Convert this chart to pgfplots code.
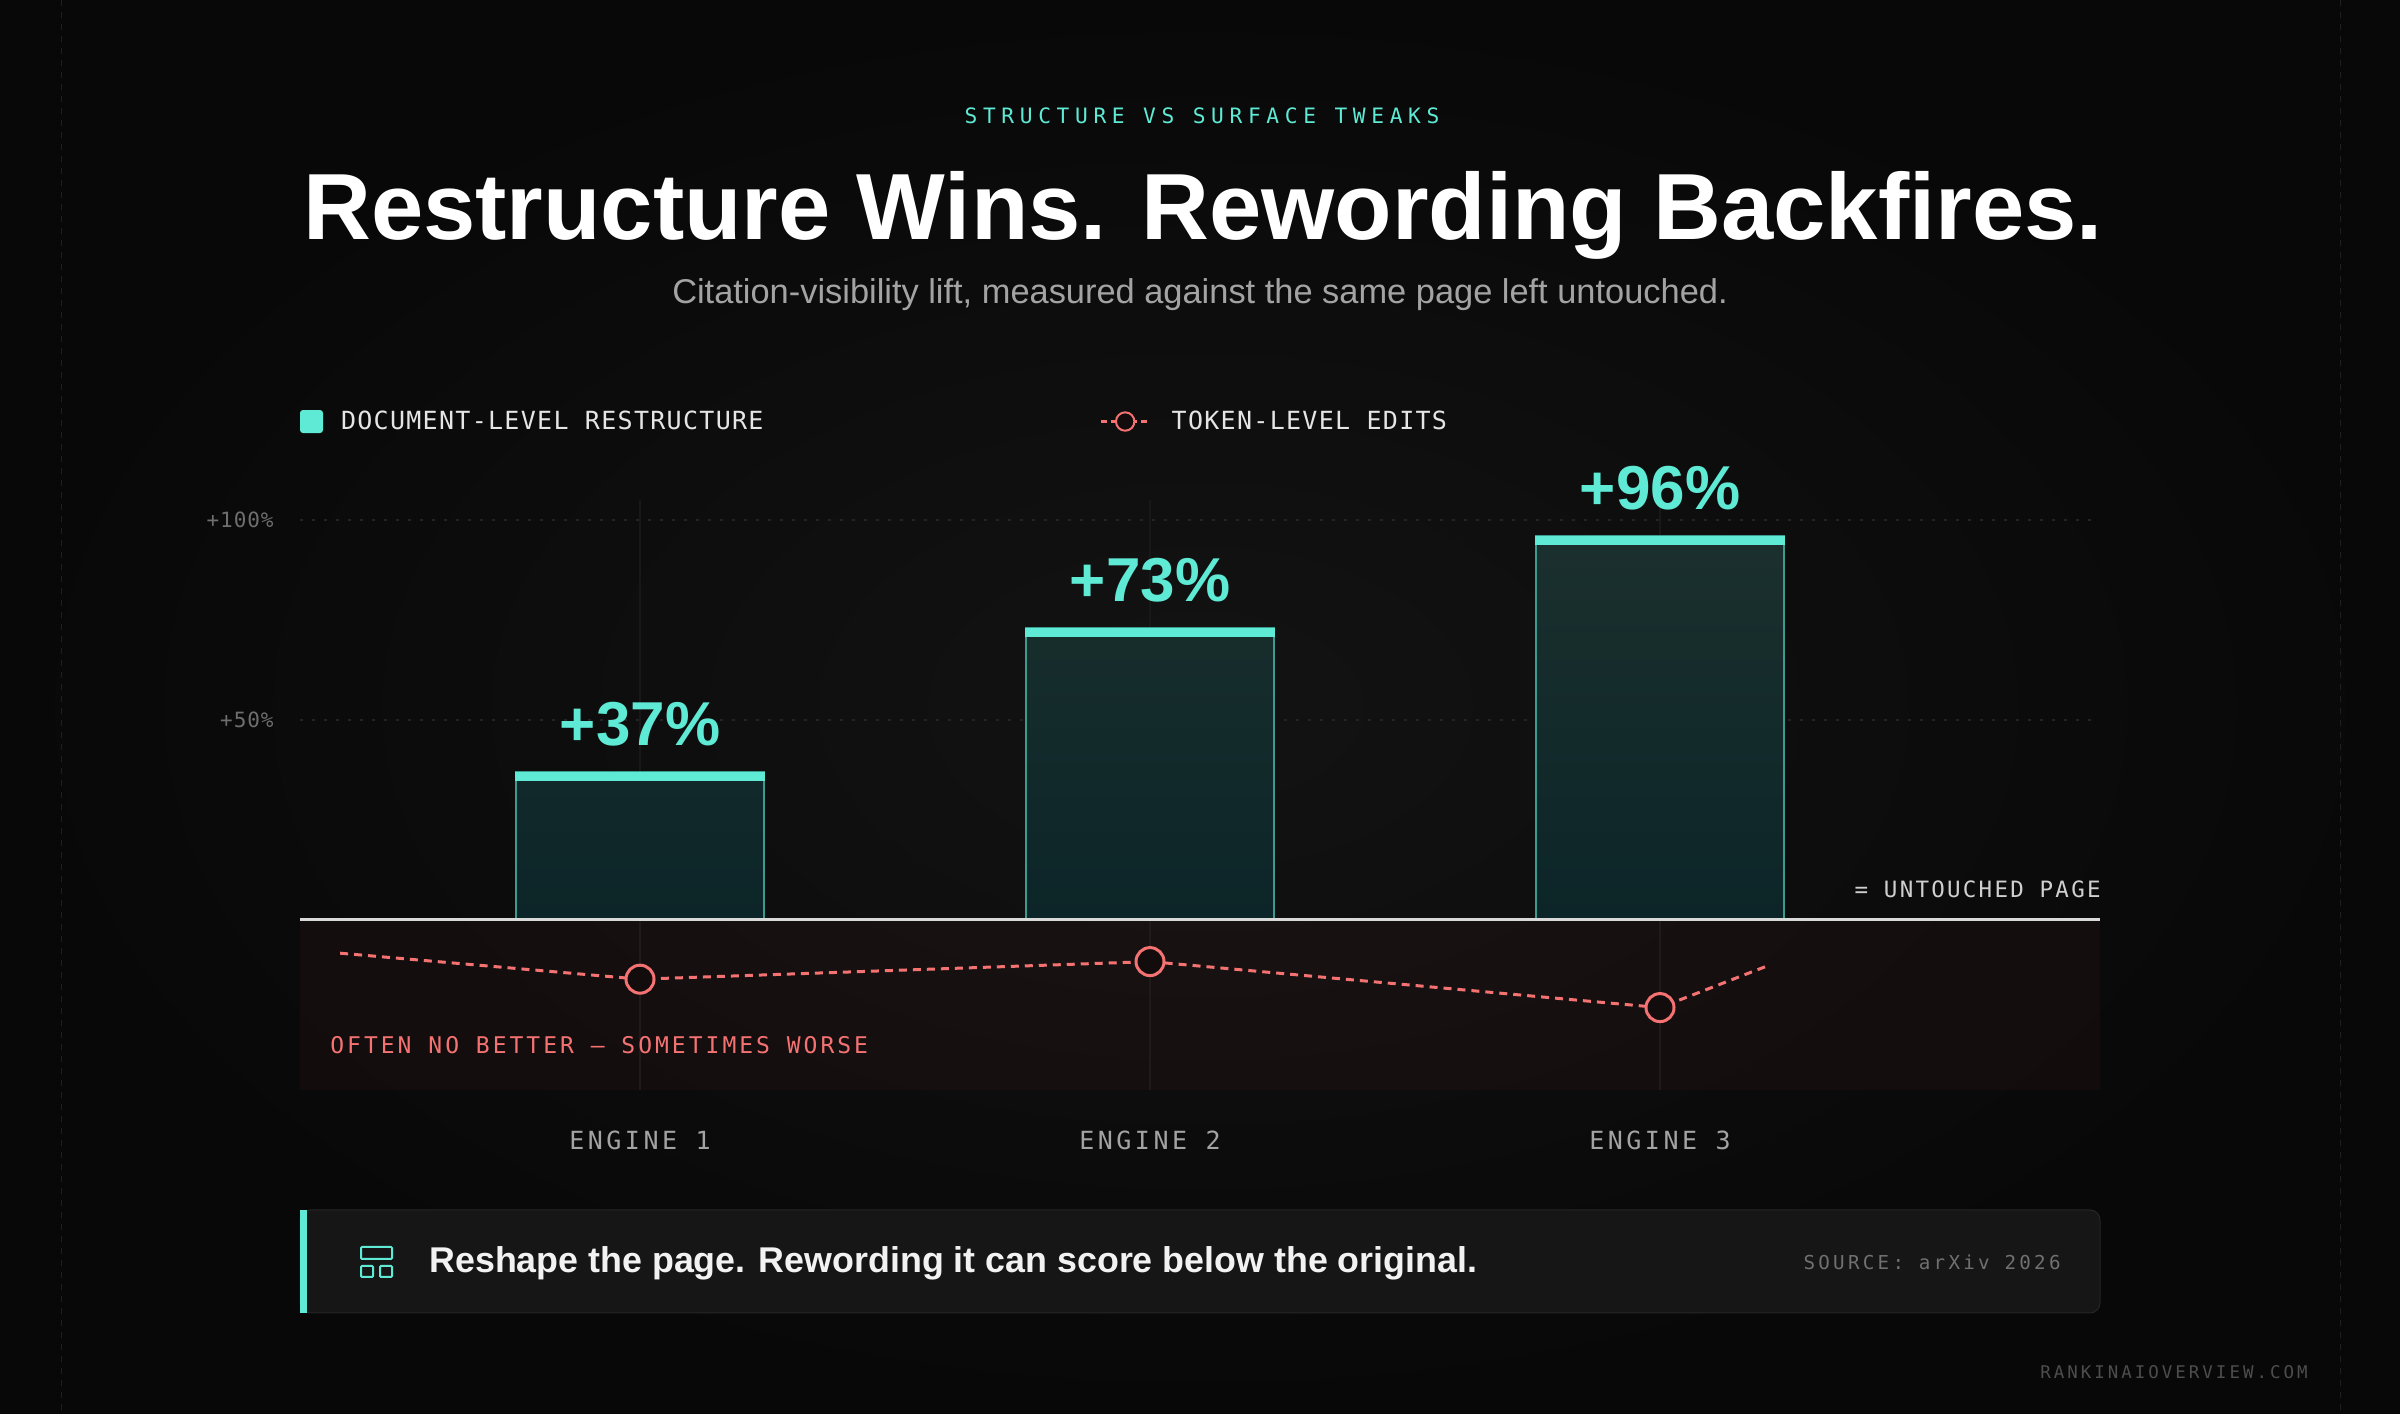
\documentclass[border=0pt]{standalone}
\usepackage{fontspec}
\usepackage{pgfplots}
\usepackage{pgfplotstable}
\pgfplotsset{compat=1.18}
\setmainfont{Liberation Sans}
\newfontfamily\monoK[LetterSpace=26.7]{DejaVu Sans Mono}
\newfontfamily\monoL[LetterSpace=5.2]{DejaVu Sans Mono}
\newfontfamily\monoY[LetterSpace=4.5]{DejaVu Sans Mono}
\newfontfamily\monoX[LetterSpace=14]{DejaVu Sans Mono}
\newfontfamily\monoU[LetterSpace=10]{DejaVu Sans Mono}
\newfontfamily\monoO[LetterSpace=13]{DejaVu Sans Mono}
\newfontfamily\monoS[LetterSpace=17]{DejaVu Sans Mono}

\definecolor{bgin}{HTML}{131313}
\definecolor{bgout}{HTML}{080808}
\definecolor{teal}{HTML}{5EEAD4}
\definecolor{salmon}{HTML}{F47272}
\definecolor{bandc}{HTML}{F05050}
\definecolor{bartop}{HTML}{1B302E}
\definecolor{barbot}{HTML}{0C2528}
\definecolor{barborder}{HTML}{3C9B8F}
\definecolor{zeroc}{HTML}{D9D9D9}
\definecolor{dotgrid}{HTML}{242424}
\definecolor{vgrid}{HTML}{181818}
\definecolor{legtext}{HTML}{E5E5E5}
\definecolor{xtickc}{HTML}{A3A3A3}
\definecolor{ytickc}{HTML}{6E6E6E}
\definecolor{untouched}{HTML}{CFCFCF}
\definecolor{subc}{HTML}{A3A3A3}
\definecolor{boxfill}{HTML}{161616}
\definecolor{boxborder}{HTML}{262626}
\definecolor{boxtext}{HTML}{F2F2F2}
\definecolor{sourcec}{HTML}{707070}
\definecolor{footc}{HTML}{4D4D4D}
\definecolor{sidec}{HTML}{1F1F1F}
\definecolor{markfill}{HTML}{120C0C}

\pgfplotstableread{
x v
0 37
1 73
2 96
}\restructure

\pgfplotstableread{
x v
-0.588 -8.3
0 -14.8
1 -10.4
2 -21.9
2.214 -11.3
}\tokenedits

\begin{document}
\begin{tikzpicture}
\begin{scope}[x=0.5pt,y=-0.5pt,shift={(0pt,707pt)}]
\useasboundingbox (0,0) rectangle (2400,1414);
\shade[inner color=bgin, outer color=bgout] (0,0) rectangle (2400,1414);
\draw[sidec, line width=0.5pt, dash pattern=on 3pt off 3pt] (61,0) -- (61,1414);
\draw[sidec, line width=0.5pt, dash pattern=on 3pt off 3pt] (2340,0) -- (2340,1414);

% header
\node[anchor=base, inner sep=0pt, text=teal, font=\fontsize{10.6}{10.6}\monoK] at (1202,124) {STRUCTURE VS SURFACE TWEAKS};
\node[anchor=base, inner sep=0pt, text=white, font=\fontsize{47}{47}\selectfont\bfseries] at (1203,240) {Restructure Wins. Rewording Backfires.};
\node[anchor=base, inner sep=0pt, text=subc, font=\fontsize{17.2}{17.2}\selectfont] at (1200,304) {Citation-visibility lift, measured against the same page left untouched.};
\end{scope}

\begin{axis}[
  at={(150pt,162pt)}, anchor=south west,
  scale only axis, width=900pt, height=295pt,
  xmin=-0.66667, xmax=2.86275, ymin=-42.5, ymax=105,
  clip=false,
  /pgf/number format/assume math mode=true,
  axis line style={draw=none},
  major tick length=0pt, tick style={draw=none},
  xtick={0,1,2}, xticklabels={ENGINE 1,ENGINE 2,ENGINE 3},
  xticklabel style={anchor=base, inner sep=0pt, yshift=-30pt, text=xtickc, font=\fontsize{12.5}{12.5}\monoX},
  ytick={50,100}, yticklabels={+50\%,+100\%},
  yticklabel style={anchor=east, inner sep=0pt, xshift=-13pt, text=ytickc, font=\fontsize{10.5}{10.5}\monoY},
  xmajorgrids, x grid style={draw=vgrid, line width=1pt},
  ymajorgrids, y grid style={draw=dotgrid, line width=1pt, dash pattern=on 1.5pt off 4.5pt},
  legend columns=2,
  legend cell align=left,
  legend style={at={(0,1.133)}, anchor=west, draw=none, fill=none, inner sep=0pt, outer sep=0pt,
    column sep=0pt, row sep=0pt, nodes={inner sep=0pt}, font=\fontsize{12.5}{12.5}\monoL, text=legtext},
]
% red band below zero (translucent so the category lines show through)
\addplot[forget plot, fill=bandc, fill opacity=0.045, draw=none] coordinates {(-0.66667,-42.5) (2.86275,-42.5)} \closedcycle;

% bars
\addplot[ybar, bar width=124pt, bar shift=0pt, draw=barborder, line width=0.75pt,
  top color=bartop, bottom color=barbot,
  nodes near coords={+\pgfmathprintnumber{\pgfplotspointmeta}\%},
  point meta=y,
  every node near coord/.append style={anchor=base, inner sep=0pt, yshift=13pt, text=teal, font=\fontsize{31}{31}\selectfont\bfseries},
  legend image code/.code={\pgfsetfillcolor{teal}\pgfsetcornersarced{\pgfpoint{1.5pt}{1.5pt}}\pgfpathrectanglecorners{\pgfpoint{0pt}{-5.75pt}}{\pgfpoint{11.5pt}{5.75pt}}\pgfusepath{fill}\pgfsetcornersarced{\pgfpointorigin}\pgfpathmoveto{\pgfpoint{20.5pt}{0pt}}\pgfusepath{discard}}
] table[x=x, y=v] {\restructure};
\addlegendentry{\makebox[379.5pt][l]{DOCUMENT-LEVEL RESTRUCTURE}}

% caps
\addplot[forget plot, only marks, mark=-, mark size=62.4pt, mark options={draw=teal, line width=4.7pt}] table[x=x, y expr=\thisrow{v}-1.15] {\restructure};

% token-level edits
\addplot[salmon, line width=1.5pt, dash pattern=on 4pt off 3pt, mark=*, mark indices={2,3,4}, mark size=7pt,
  mark options={solid, fill=markfill, draw=salmon, line width=1.5pt},
  legend image code/.code={\draw[salmon, line width=1.2pt, dash pattern=on 3pt off 2pt] (0pt,0pt) -- (24.5pt,0pt); \filldraw[draw=salmon, fill=markfill, line width=1pt, solid] (12pt,0pt) circle (4.6pt); \path (34.5pt,0pt);}
] table[x=x, y=v] {\tokenedits};
\addlegendentry{TOKEN-LEVEL EDITS}

% zero line (untouched page)
\addplot[forget plot, draw=zeroc, line width=1.5pt] coordinates {(-0.66667,0) (2.86275,0)};
\end{axis}

\begin{scope}[x=0.5pt,y=-0.5pt,shift={(0pt,707pt)}]
\node[anchor=base east, inner sep=0pt, text=untouched, font=\fontsize{11.25}{11.25}\monoU] at (2101,898) {= UNTOUCHED PAGE};
\node[anchor=base west, inner sep=0pt, text=salmon, font=\fontsize{11.5}{11.5}\monoO] at (330,1054) {OFTEN NO BETTER — SOMETIMES WORSE};

% callout
\draw[fill=boxfill, draw=boxborder, line width=0.5pt, rounded corners=5pt] (300,1210) rectangle (2100,1313);
\fill[teal] (300,1210) rectangle (307,1313);
\draw[teal, line width=1pt, rounded corners=0.5pt] (361,1247) rectangle (392,1259);
\draw[teal, line width=1pt, rounded corners=0.5pt] (361,1266) rectangle (373,1277);
\draw[teal, line width=1pt, rounded corners=0.5pt] (380,1266) rectangle (392,1277);
\node[anchor=base west, inner sep=0pt, text=boxtext, font=\fontsize{17.9}{17.9}\selectfont\bfseries] at (429,1273) {Reshape the page. Rewording it can score below the original.};
\node[anchor=base east, inner sep=0pt, text=sourcec, font=\fontsize{9.6}{9.6}\monoS] at (2061,1270) {SOURCE: arXiv 2026};
\node[anchor=base east, inner sep=0pt, text=footc, font=\fontsize{8.75}{8.75}\monoS] at (2308,1379) {RANKINAIOVERVIEW.COM};
\end{scope}
\end{tikzpicture}
\end{document}
